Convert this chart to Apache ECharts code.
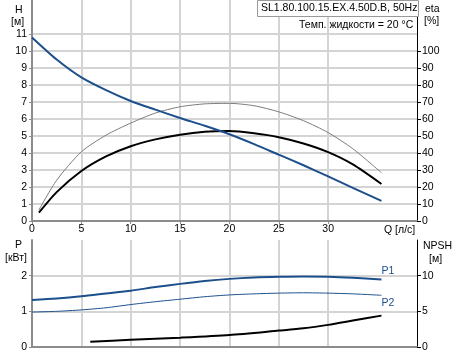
<!DOCTYPE html>
<html>
<head>
<meta charset="utf-8">
<script src="https://cdn.jsdelivr.net/npm/echarts@6/dist/echarts.min.js"></script>
<style>
  html, body { margin: 0; padding: 0; background: #fff; }
  #chart { width: 457px; height: 355px; }
</style>
</head>
<body>
<div id="chart"></div>
<script>
// flow in l/s for each curve
const hQ = [0, 2.5, 5, 7.5, 10, 12.5, 15, 17.5, 20, 22.5, 25, 27.5, 30, 32.5, 35.4]
const hVals = [10.8, 9.5, 8.45, 7.7, 7.06, 6.55, 6.06, 5.6, 5.1, 4.52, 3.9, 3.28, 2.62, 1.95, 1.18]

const etaQ = [0.7, 2.5, 5, 7.5, 10, 12.5, 15, 17.5, 20, 22.5, 25, 27.5, 30, 32.5, 35.4]
const etaVals = [4.9, 17, 29.4, 38, 44, 48, 50.8, 52.5, 52.9, 51.6, 49.3, 45.6, 40.5, 33.3, 21.8]
const etaPumpVals = [6.5, 24, 40.7, 50.5, 57.6, 63.5, 67.2, 68.9, 69.2, 67.8, 64.2, 59, 52, 42.5, 28.4]

const pQ = [0, 2.5, 5, 7.5, 10, 12.5, 15, 17.5, 20, 22.5, 25, 27.5, 30, 32.5, 35.4]
const p1Vals = [1.32, 1.36, 1.42, 1.5, 1.58, 1.68, 1.77, 1.85, 1.91, 1.95, 1.97, 1.98, 1.97, 1.94, 1.89]
const p2Vals = [0.98, 1.0, 1.04, 1.1, 1.19, 1.27, 1.34, 1.41, 1.46, 1.49, 1.51, 1.52, 1.51, 1.49, 1.45]

const npshQ = [5.9, 10, 15, 20, 25, 27.5, 30, 32.5, 35.4]
const npshVals = [0.75, 1.0, 1.31, 1.69, 2.3, 2.62, 3.1, 3.7, 4.4]

const qTicks = [0, 5, 10, 15, 20, 25, 30]
const hTicks = [0, 1, 2, 3, 4, 5, 6, 7, 8, 9, 10, 11]
const etaTicks = [0, 10, 20, 30, 40, 50, 60, 70, 80, 90, 100]
const pTicks = [0, 1, 2]
const npshTicks = [0, 5, 10]

const blue = '#1c4f8c'
const gridGray = '#d4d4d4'
const axisGray = '#8c8c8c'
const font = 'Liberation Sans'
const fs = 10.5

const pairs = (xs, ys) => xs.map((x, i) => [x, ys[i]])

function qAxis(gridIndex, showLabels) {
    return {
        type: 'value', gridIndex: gridIndex, min: 0, max: 39, interval: 5,
        axisLine: { lineStyle: { color: axisGray, width: 2 } },
        axisTick: { show: showLabels, length: 3, customValues: qTicks, lineStyle: { color: axisGray } },
        axisLabel: { show: showLabels, customValues: qTicks, color: '#000', fontSize: fs, fontFamily: font, margin: 3 },
        splitLine: { show: true, lineStyle: { color: gridGray, width: 2 } }
    }
}

function leftAxis(gridIndex, max, interval, ticks) {
    return {
        type: 'value', gridIndex: gridIndex, position: 'left', min: 0, max: max, interval: interval,
        axisLine: { show: true, lineStyle: { color: axisGray, width: 2 } },
        axisTick: { show: true, length: 3, customValues: ticks, lineStyle: { color: axisGray } },
        axisLabel: { customValues: ticks, color: '#000', fontSize: fs, fontFamily: font, margin: 5 },
        splitLine: { show: true, lineStyle: { color: gridGray, width: 2 } }
    }
}

function rightAxis(gridIndex, max, interval, ticks) {
    return {
        type: 'value', gridIndex: gridIndex, position: 'right', min: 0, max: max, interval: interval,
        axisLine: { show: true, lineStyle: { color: '#000', width: 1 } },
        axisTick: { show: true, length: 4, customValues: ticks, lineStyle: { color: '#000' } },
        axisLabel: { customValues: ticks, color: '#000', fontSize: fs, fontFamily: font, margin: 5 },
        splitLine: { show: false }
    }
}

function curve(name, data, xi, yi, color, width) {
    return {
        name: name, type: 'line', xAxisIndex: xi, yAxisIndex: yi,
        data: data, smooth: 0.25, symbol: 'none', silent: true,
        lineStyle: { color: color, width: width }
    }
}

let dom = document.getElementById('chart')
let myChart = echarts.init(dom, null, { renderer: 'canvas' })

let txt = (x, y, text) => ({
    type: 'text', left: x, top: y, z: 10,
    style: { text: text, fill: '#000', fontSize: fs, fontFamily: font }
})

let option = {
    animation: false,
    grid: [
        { left: 32, top: 0, right: 40, height: 221 },
        { left: 32, top: 240, right: 40, height: 107 }
    ],
    xAxis: [qAxis(0, true), qAxis(1, false)],
    yAxis: [
        leftAxis(0, 13, 1, hTicks),
        rightAxis(0, 130, 10, etaTicks),
        leftAxis(1, 3, 1, pTicks),
        rightAxis(1, 15, 5, npshTicks)
    ],
    series: [
        curve('eta pump', pairs(etaQ, etaPumpVals), 0, 1, '#7a7a7a', 1),
        curve('eta', pairs(etaQ, etaVals), 0, 1, '#000', 2),
        curve('H', pairs(hQ, hVals), 0, 0, blue, 2),
        Object.assign(curve('P1', pairs(pQ, p1Vals), 1, 2, blue, 2), {
            endLabel: { show: true, formatter: 'P1', color: blue, fontSize: fs, fontFamily: font, offset: [-8, -8] }
        }),
        Object.assign(curve('P2', pairs(pQ, p2Vals), 1, 2, blue, 1), {
            endLabel: { show: true, formatter: 'P2', color: blue, fontSize: fs, fontFamily: font, offset: [-8, 8] }
        }),
        curve('NPSH', pairs(npshQ, npshVals), 1, 3, '#000', 2)
    ],
    graphic: [
        { type: 'rect', left: 257, top: 0, z: 9, shape: { width: 161, height: 16 }, style: { fill: '#fff', stroke: '#999', lineWidth: 1 } },
        txt(261, 3, 'SL1.80.100.15.EX.4.50D.B, 50Hz'),
        txt(299, 20, 'Темп. жидкости = 20 °C'),
        txt(15, 5, 'H'),
        txt(11, 17, '[м]'),
        txt(425, 4, 'eta'),
        txt(424, 16, '[%]'),
        txt(384, 225, 'Q [л/с]'),
        txt(15, 240, 'P'),
        txt(5, 253, '[кВт]'),
        txt(423, 241, 'NPSH'),
        txt(429, 254, '[м]')
    ]
}

myChart.setOption(option)
window.addEventListener('resize', myChart.resize)
</script>
</body>
</html>
